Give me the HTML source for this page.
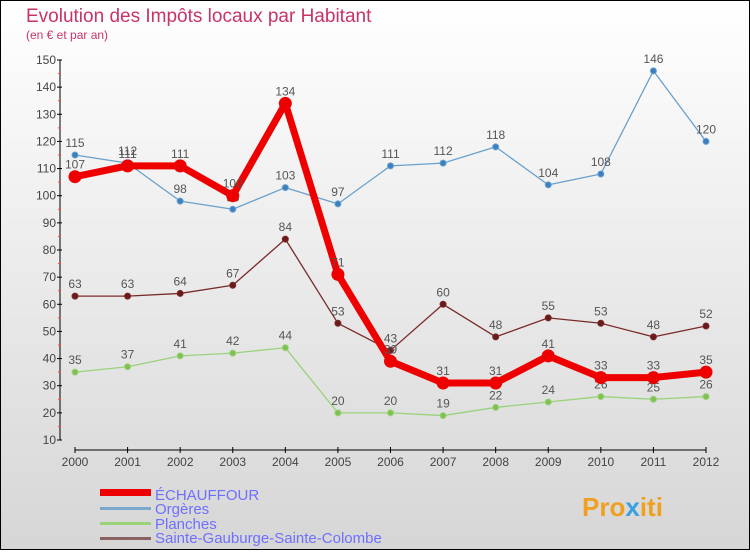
<!DOCTYPE html>
<html><head><meta charset="utf-8"><style>
body{margin:0;}
svg text{font-family:"Liberation Sans",sans-serif;}
</style></head><body>
<svg id="c" width="750" height="550" xmlns="http://www.w3.org/2000/svg">
<defs><linearGradient id="bg" x1="0" y1="0" x2="0" y2="1"><stop offset="0" stop-color="#ffffff"/><stop offset="1" stop-color="#d6d6d6"/></linearGradient></defs>
<rect x="0.5" y="0.5" width="749" height="549" fill="url(#bg)" stroke="#000"/>
<text x="26" y="22" font-size="19" fill="#c8336a">Evolution des Impôts locaux par Habitant</text>
<text x="26" y="39" font-size="12" fill="#c8336a">(en € et par an)</text>
<g id="axes"></g><g id="series"></g>
<g>
<rect x="100" y="489" width="51" height="7" fill="#e00"/>
<text x="155" y="500" font-size="15" fill="#6f6fff">ÉCHAUFFOUR</text>
<rect x="100" y="507" width="51" height="3" fill="#7aa7cc"/>
<text x="155" y="514" font-size="15" fill="#6f6fff">Orgères</text>
<rect x="100" y="522" width="51" height="3" fill="#9ad27a"/>
<text x="155" y="529" font-size="15" fill="#6f6fff">Planches</text>
<rect x="100" y="537" width="51" height="3" fill="#8a6060"/>
<text x="155" y="543" font-size="15" fill="#6f6fff">Sainte-Gauburge-Sainte-Colombe</text>
</g>
<text x="582" y="516" font-size="26" font-weight="bold" fill="#f0a020">Pro<tspan fill="#3aa0e0">x</tspan>iti</text>
</svg>
<script>
const years=[2000,2001,2002,2003,2004,2005,2006,2007,2008,2009,2010,2011,2012];
const yTicks=[10,20,30,40,50,60,70,80,90,100,110,120,130,140,150];
const echauffour=[107,111,111,100,134,71,39,31,31,41,33,33,35];
const orgeres=[115,112,98,95,103,97,111,112,118,104,108,146,120];
const planches=[35,37,41,42,44,20,20,19,22,24,26,25,26];
const sainte=[63,63,64,67,84,53,43,60,48,55,53,48,52];
const NS="http://www.w3.org/2000/svg";
const X=i=>75+i*(706-75)/12;
const Y=v=>440-(v-10)*(380/140);
function mk(t,a,p){const e=document.createElementNS(NS,t);for(const k in a)e.setAttribute(k,a[k]);p.appendChild(e);return e;}
const ax=document.getElementById('axes');
let yl=mk('line',{x1:60,y1:Y(150),x2:60,y2:Y(10),stroke:'#000'},ax);


yTicks.forEach(v=>{
 mk('line',{x1:57,y1:Y(v),x2:62,y2:Y(v),stroke:'#000'},ax);
 if(v<150)mk('line',{x1:58,y1:Y(v+5),x2:61,y2:Y(v+5),stroke:'#f44'},ax);
 const t=mk('text',{x:56,y:Y(v)+4,'font-size':12,fill:'#444','text-anchor':'end'},ax);t.textContent=v;
 
 
});
let xl=mk('line',{x1:X(0),y1:450,x2:X(12),y2:450,stroke:'#000'},ax);


years.forEach((y,i)=>{
 mk('line',{x1:X(i),y1:447,x2:X(i),y2:453,stroke:'#000'},ax);
 const t=mk('text',{x:X(i),y:466,'font-size':12,fill:'#444','text-anchor':'middle'},ax);t.textContent=y;
 
 
});
const sg=document.getElementById('series');
function series(name,vals,col,w,r,dot){
 const g=mk('g',{},sg);
 
 
 mk('polyline',{points:vals.map((v,i)=>X(i)+','+Y(v)).join(' '),fill:'none',stroke:col,'stroke-width':w,'stroke-linejoin':'round'},g);
 vals.forEach((v,i)=>{
  const c=mk('circle',{cx:X(i),cy:Y(v),r:r,fill:dot,stroke:col,'stroke-width':1},g);
  
  
  const t=mk('text',{x:X(i),y:Y(v)-8,'font-size':12,fill:'#555','text-anchor':'middle'},g);t.textContent=v;
  
  
 });
}
series('sainte',sainte,'#7a2a2a',1.3,3,'#6a1a1a');
series('planches',planches,'#9ad27a',1.3,3,'#80c050');
series('orgeres',orgeres,'#6aa0cc',1.3,3,'#3a80c0');
series('echauffour',echauffour,'#ee0000',7,6,'#ee0000');
</script>
</body></html>
